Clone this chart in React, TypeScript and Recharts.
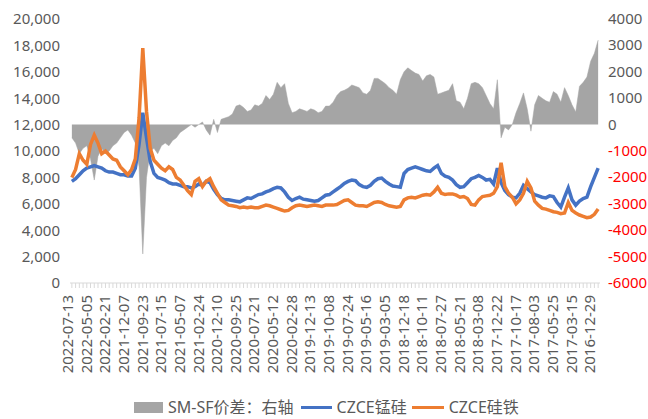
import React from 'react';
import { ComposedChart, Area, Line, XAxis, YAxis, Legend } from 'recharts';

document.body.style.margin = '0';

const FONT = '"Noto Sans", "Noto Sans CJK SC", sans-serif';

// one label every 5 points, newest date on the left
const tickDates = [
  '2022-07-13', '2022-05-05', '2022-02-21', '2021-12-07', '2021-09-23', '2021-07-15',
  '2021-05-07', '2021-02-24', '2020-12-10', '2020-09-25', '2020-07-21', '2020-05-12',
  '2020-02-28', '2019-12-13', '2019-10-08', '2019-07-24', '2019-05-16', '2019-03-05',
  '2018-12-18', '2018-10-11', '2018-07-27', '2018-05-21', '2018-03-08', '2017-12-22',
  '2017-10-17', '2017-08-03', '2017-05-25', '2017-03-15', '2016-12-29',
];

// CZCE锰硅
const smPrice = [
  7700, 7900, 8200, 8500, 8700, 8800, 8900, 8800, 8700, 8500, 8400, 8400, 8300, 8200, 8200, 8100, 8100,
  8700, 10500, 12900, 11000, 9200, 8300, 8000, 7900, 7800, 7600, 7500, 7500, 7400, 7300, 7300, 7200,
  7300, 7500, 7400, 7700, 7600, 7100, 6700, 6400, 6300, 6300, 6250, 6200, 6150, 6300, 6450, 6400,
  6550, 6700, 6750, 6900, 7000, 7150, 7250, 7200, 6900, 6500, 6250, 6400, 6500, 6350, 6300, 6250,
  6200, 6250, 6450, 6650,
  6700, 6900, 7100, 7300, 7550, 7700, 7800, 7750, 7450, 7300, 7250, 7400, 7700, 7900, 7950, 7700,
  7500, 7350, 7300, 7250, 8300, 8600, 8700, 8800, 8700, 8600, 8500, 8450, 8700, 8900, 8300, 8100,
  8000, 7800, 7450, 7250, 7300,
  7600, 7900, 8000, 8150, 8000, 7800, 7850, 7500, 8700, 7600, 7000, 6700, 6500, 6450, 6800, 7400,
  7150, 6900, 6700, 6600, 6500, 6450, 6600, 6550, 6100, 5750, 6500, 7200, 6300, 5900, 6200, 6400,
  6500, 7300, 8000, 8700,
];

// CZCE硅铁
const sfPrice = [
  8000, 8600, 9800, 9300, 9000, 10500, 11200, 10600, 9800, 10000, 9700, 9400, 9300, 8800, 8500, 8200, 8600,
  9400, 12500, 17800, 13000, 10200, 9300, 9000, 8700, 8500, 8800, 8600, 8000, 7800, 7400, 7000, 6700,
  7700, 7900, 7300, 7700, 7900, 7300, 6800, 6300, 6100, 5900, 5850, 5800, 5700, 5750, 5700, 5750,
  5700, 5700, 5800, 5900, 5850, 5750, 5650, 5550, 5450, 5500, 5700, 5850, 5900, 5850, 5800, 5850,
  5900, 5850, 5800, 5900,
  5900, 5900, 5950, 6100, 6250, 6300, 6100, 5900, 5850, 5850, 5800, 5950, 6100, 6150, 6100, 5950,
  5850, 5800, 5750, 5800, 6300, 6450, 6500, 6450, 6550, 6650, 6700, 6650, 6900, 7250, 6800, 6700,
  6750, 6750, 6650, 6500, 6550,
  6400, 5950, 5900, 6300, 6550, 6600, 6650, 6800, 7300, 9100, 7300, 6800, 6500, 6000, 6300, 6800,
  7700, 7200, 6200, 5900, 5650, 5600, 5500, 5400, 5350, 5250, 5300, 6100, 5500, 5300, 5150, 5050,
  4950, 5000, 5200, 5600,
];

// SM-SF价差 (right axis)
const spread = [
  -500, -700, -1100, -900, -800, -1300, -2100, -1200, -900, -1100, -1000, -800, -700, -500, -300, -200, -400,
  -700, -1600, -4900, -2000, -1000, -900, -1100, -800, -700, -800, -600, -500, -300, -200, -100, 0,
  -100, 0, 100, -200, -400, 200, -300, 200, 250, 300, 400, 700, 750, 650, 500, 550,
  750, 700, 800, 1100, 950, 1150, 1600, 1400, 1550, 800, 450, 500, 600, 550, 500, 600,
  550, 450, 500, 700,
  700, 850, 1100, 1250, 1300, 1380, 1500, 1450, 1400, 1200, 1150, 1300, 1750, 1750, 1650, 1550,
  1400, 1300, 1150, 1700, 2000, 2150, 2050, 1950, 1900, 1650, 1850, 1900, 1800, 1150, 1200, 1250,
  1300, 1550, 900, 850, 600,
  1000, 1550, 1600, 1550, 1400, 1100, 800, 600, 1700, -500, -100, -200, 0, 450, 800, 1200,
  600, -250, 750, 1100, 1000, 900, 850, 1250, 1150, 850, 1400, 1100, 750, 480, 1450, 1600,
  1800, 2400, 2700, 3200,
];

const leftTicks = [0, 2000, 4000, 6000, 8000, 10000, 12000, 14000, 16000, 18000, 20000];
const rightTicks = [-6000, -5000, -4000, -3000, -2000, -1000, 0, 1000, 2000, 3000, 4000];

const data = smPrice.map((sm, i) => ({
  idx: i,
  date: i % 5 === 0 ? tickDates[i / 5] : '',
  sm,
  sf: sfPrice[i],
  spread: spread[i],
}));
const xTicks = data.map((d) => d.idx);

const DateTick = (props: any) => {
  const { x, y, payload } = props;
  const label = data[payload.value]?.date;
  const ty = y + 12;
  return (
    <g>
      <line x1={x} x2={x} y1={y} y2={y + 5} stroke="#d9d9d9" />
      {label ? (
        <text
          x={x}
          y={ty}
          dy={1}
          transform={`rotate(-90 ${x} ${ty})`}
          textAnchor="end"
          fill="#595959"
          fontSize={15}
          fontFamily={FONT}
        >
          {label}
        </text>
      ) : null}
    </g>
  );
};

const RightTick = (props: any) => {
  const { x, y, payload } = props;
  return (
    <text x={x} y={y} dy={5} textAnchor="start" fontSize={15} fontFamily={FONT}
      fill={payload.value < 0 ? '#ff0000' : '#595959'}>
      {payload.value}
    </text>
  );
};

const LegendContent = () => (
  <div
    style={{
      height: 36,
      boxSizing: 'border-box',
      paddingTop: 12,
      paddingLeft: 134,
      display: 'flex',
      alignItems: 'center',
      fontSize: 16,
      lineHeight: '18px',
      color: '#595959',
      fontFamily: FONT,
      whiteSpace: 'nowrap',
      overflow: 'visible',
    }}
  >
    <span style={{ width: 29, height: 11, background: '#a5a5a5', marginRight: 5 }} />
    <span>SM-SF价差：右轴</span>
    <span style={{ width: 31, height: 3, background: '#4472c4', margin: '0 5px 0 7px' }} />
    <span>CZCE锰硅</span>
    <span style={{ width: 32, height: 3, background: '#ed7d31', margin: '0 5px 0 5px' }} />
    <span>CZCE硅铁</span>
  </div>
);

export default function App() {
  return (
    <ComposedChart
      width={648}
      height={419}
      data={data}
      margin={{ top: 19, right: 8, left: 8, bottom: 0 }}
    >
      <XAxis
        dataKey="idx"
        type="number"
        domain={[-0.5, data.length - 0.5]}
        ticks={xTicks}
        interval={0}
        tickSize={0}
        tickMargin={0}
        height={100}
        axisLine={{ stroke: '#d9d9d9' }}
        tickLine={false}
        tick={<DateTick />}
      />
      <YAxis
        yAxisId="left"
        domain={[0, 20000]}
        ticks={leftTicks}
        width={62}
        axisLine={false}
        tickLine={false}
        tickMargin={4}
        tickFormatter={(v: number) => v.toLocaleString('en-US')}
        tick={{ fill: '#595959', fontSize: 15, fontFamily: FONT }}
      />
      <YAxis
        yAxisId="right"
        orientation="right"
        domain={[-6000, 4000]}
        ticks={rightTicks}
        width={40}
        axisLine={false}
        tickLine={false}
        tick={<RightTick />}
      />
      <Legend verticalAlign="bottom" height={36} wrapperStyle={{ left: 0, width: 648 }} content={<LegendContent />} />
      <Area
        yAxisId="right"
        dataKey="spread"
        type="linear"
        fill="#a5a5a5"
        fillOpacity={1}
        stroke="#a5a5a5"
        strokeWidth={0.5}
        isAnimationActive={false}
      />
      <Line yAxisId="left" dataKey="sm" type="linear" stroke="#4472c4" strokeWidth={3.5} dot={false} isAnimationActive={false} />
      <Line yAxisId="left" dataKey="sf" type="linear" stroke="#ed7d31" strokeWidth={3.5} dot={false} isAnimationActive={false} />
    </ComposedChart>
  );
}
